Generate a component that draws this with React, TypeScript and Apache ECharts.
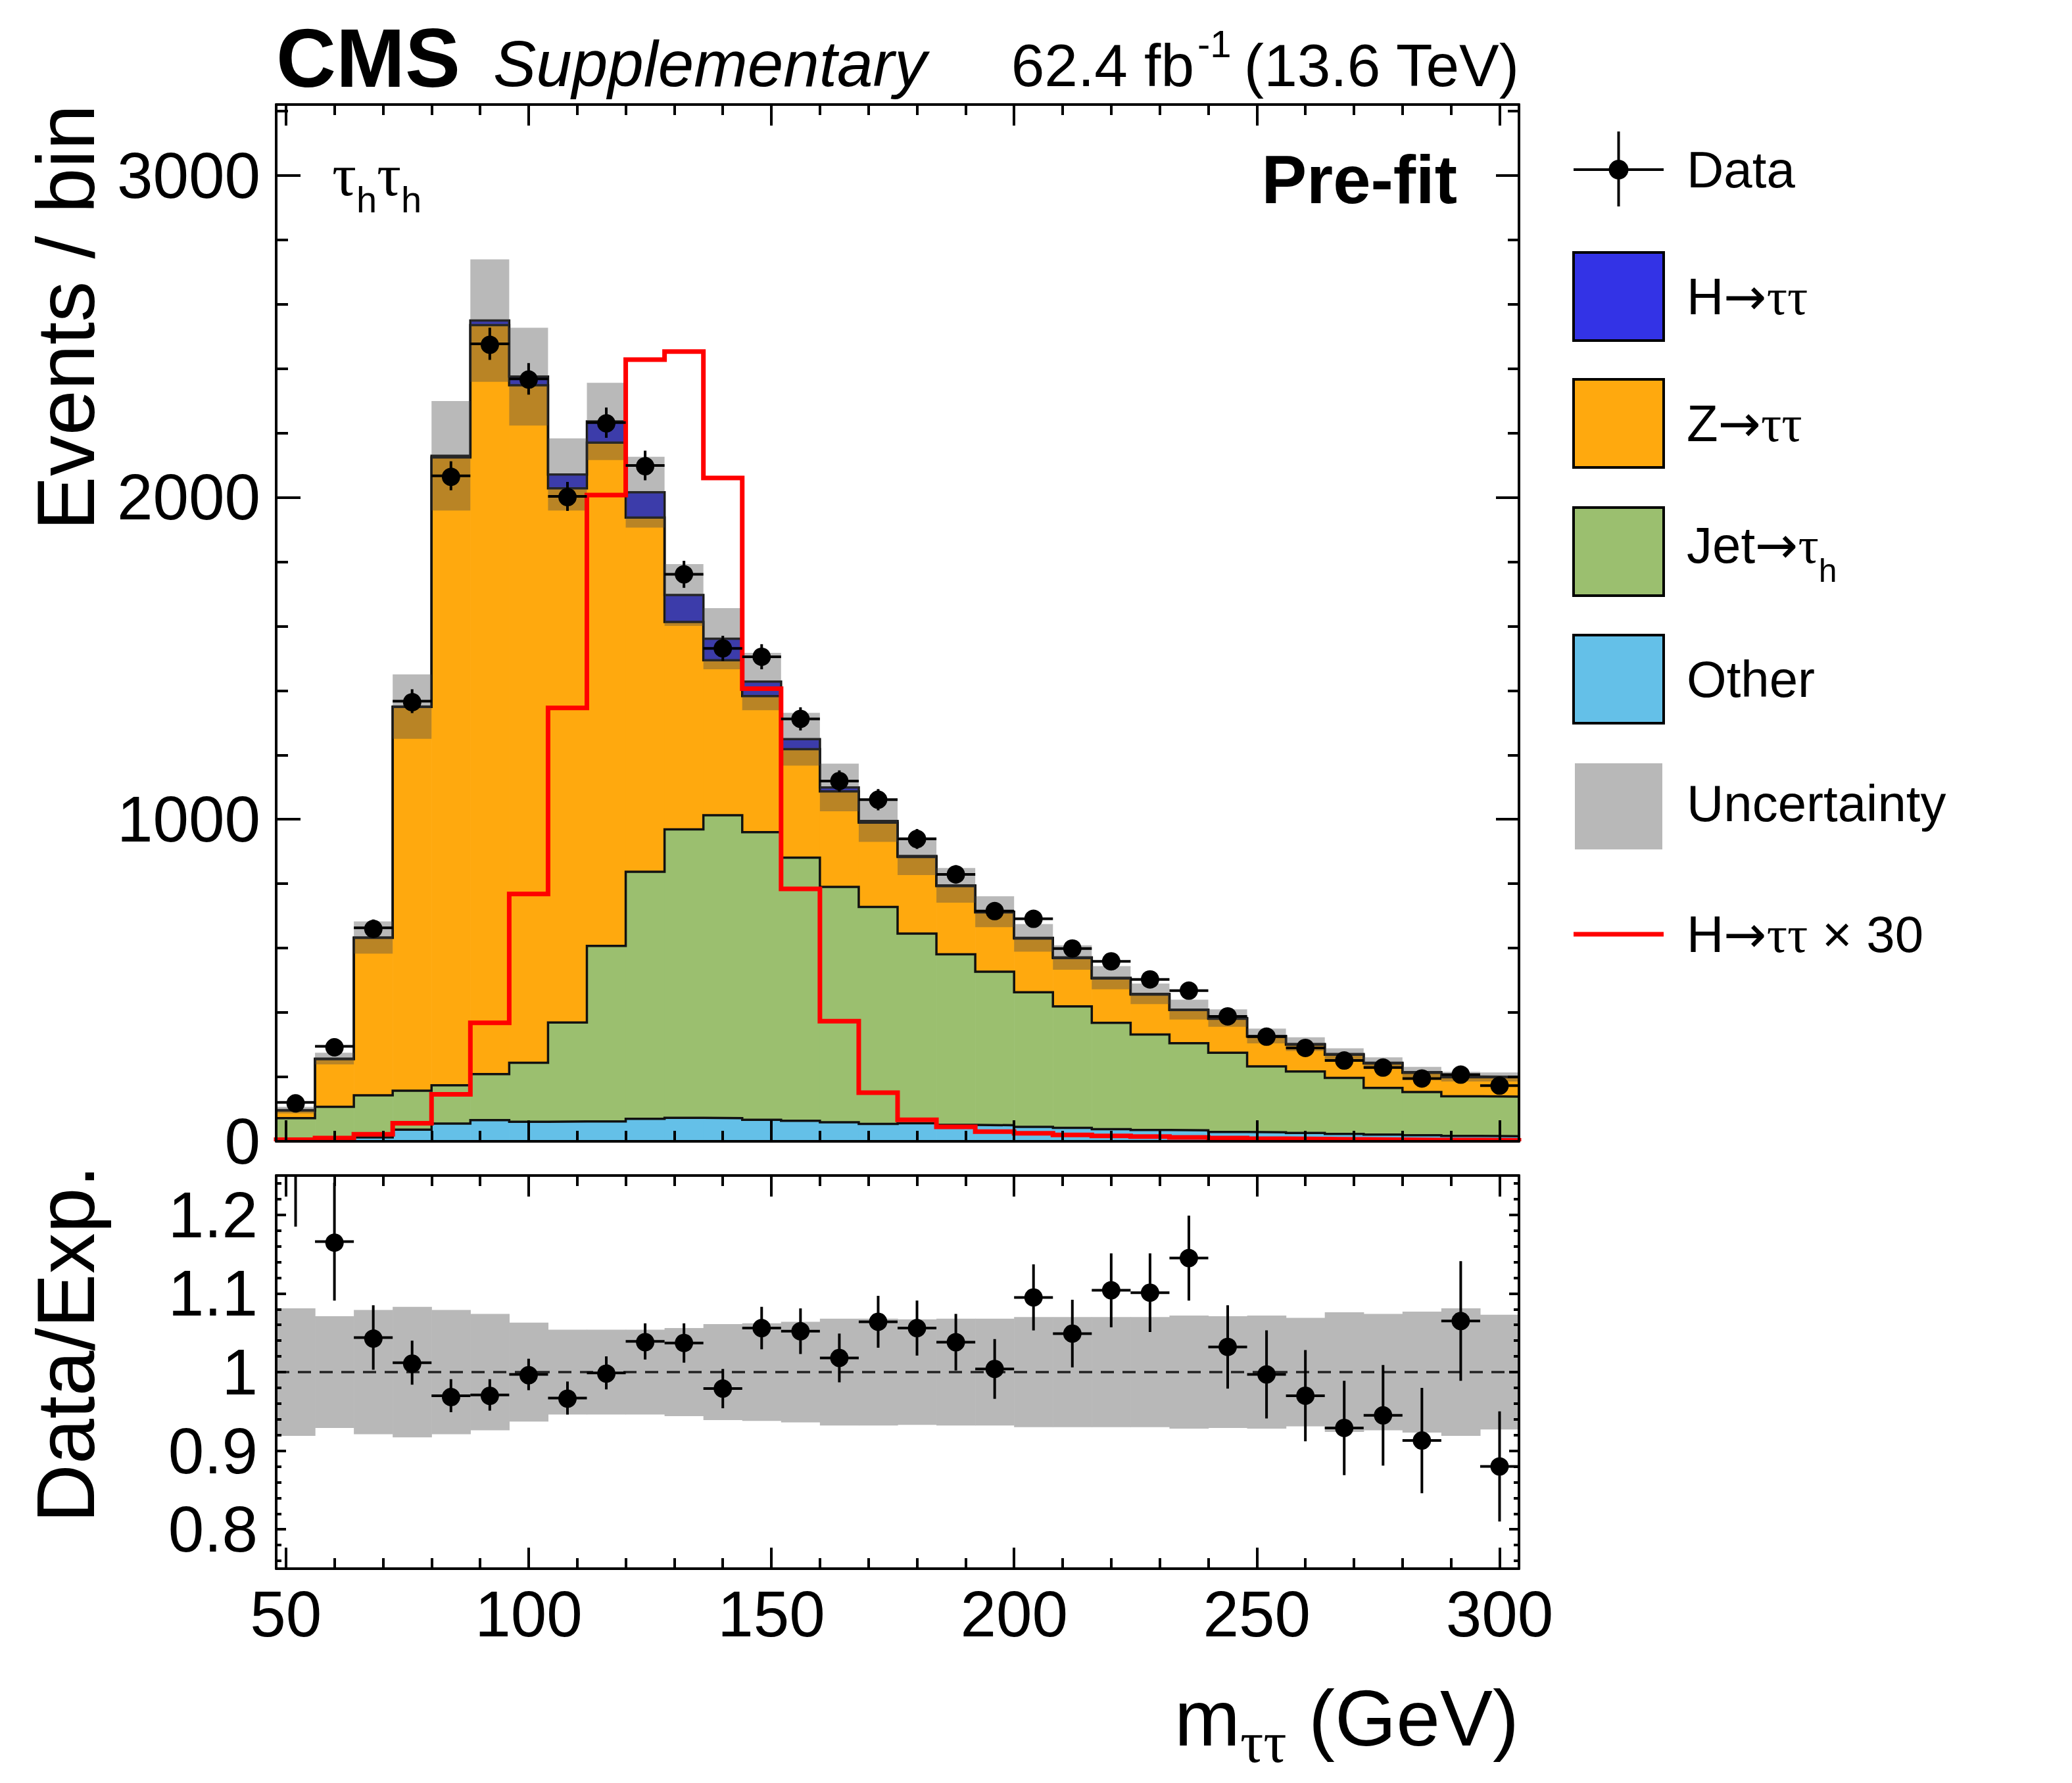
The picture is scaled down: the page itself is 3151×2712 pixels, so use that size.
import React, { useEffect, useRef } from 'react';
import * as echarts from 'echarts';

// m_tautau bin centres (GeV), 8 GeV wide bins from 48 to 304
const massBins = [52, 60, 68, 76, 84, 92, 100, 108, 116, 124, 132, 140, 148, 156, 164, 172, 180, 188, 196, 204, 212, 220, 228, 236, 244, 252, 260, 268, 276, 284, 292, 300];
const binHalfWidth = 4;
const xMin = 48;
const xMax = 304;

// stacked expectation, bottom to top
const otherYields = [3, 5, 12, 36, 55, 66, 61, 62, 62, 70, 73, 72, 67, 64, 59, 54, 56, 51, 50, 45, 42, 38, 35, 34, 29, 28, 26, 23, 21, 19, 17, 16];
const jetFakeYields = [69, 102, 131, 121, 119, 143, 183, 307, 545, 767, 896, 941, 893, 817, 731, 674, 589, 530, 477, 418, 377, 330, 297, 271, 246, 205, 191, 174, 145, 134, 123, 123];
const zttYields = [24, 148, 489, 1192, 1950, 2326, 2104, 1659, 1563, 1100, 644, 481, 423, 337, 297, 262, 238, 212, 184, 167, 150, 138, 124, 103, 106, 92, 83, 72, 76, 60, 59, 60];
const httYields = [1, 2, 1, 1, 5, 14, 27, 43, 66, 79, 84, 67, 45, 31, 12, 5, 3, 2, 2, 2, 2, 2, 2, 1, 2, 2, 2, 2, 2, 2, 2, 1];
const totalUnc = [10, 18, 50, 100, 170, 190, 152, 112, 120, 110, 96, 95, 89, 82, 74, 65, 59, 54, 48, 43, 38, 36, 32, 31, 27, 23, 21, 18, 17, 16, 15, 14];

// H->tautau x 30 overlay
const httTimes30 = [5, 10, 22, 56, 146, 368, 768, 1346, 2007, 2428, 2453, 2060, 1406, 784, 373, 151, 67, 45, 30, 25, 20, 17, 15, 12, 10, 8, 7, 6, 5, 4, 4, 3];

// observed
const dataCounts = [121, 295, 663, 1367, 2067, 2477, 2368, 2003, 2232, 2099, 1761, 1531, 1505, 1312, 1119, 1061, 939, 829, 715, 691, 599, 559, 503, 468, 388, 325, 290, 251, 229, 195, 207, 173];
const dataErrors = [11, 17, 26, 37, 45, 50, 49, 45, 47, 46, 42, 39, 39, 36, 33, 33, 31, 29, 27, 26, 24, 24, 22, 22, 20, 18, 17, 16, 15, 14, 14, 13];

// ratio panel
const ratioValues = [1.3, 1.166, 1.044, 1.012, 0.97, 0.971, 0.997, 0.967, 0.999, 1.039, 1.037, 0.979, 1.056, 1.052, 1.018, 1.064, 1.056, 1.038, 1.004, 1.095, 1.049, 1.104, 1.101, 1.145, 1.032, 0.997, 0.97, 0.929, 0.945, 0.913, 1.065, 0.88];
const ratioErrors = [0.115, 0.075, 0.041, 0.028, 0.021, 0.02, 0.02, 0.021, 0.021, 0.023, 0.025, 0.025, 0.027, 0.029, 0.031, 0.033, 0.035, 0.036, 0.038, 0.042, 0.043, 0.047, 0.05, 0.054, 0.053, 0.056, 0.058, 0.06, 0.064, 0.067, 0.076, 0.07];
const ratioUnc = [0.081, 0.071, 0.079, 0.083, 0.079, 0.074, 0.063, 0.054, 0.054, 0.054, 0.056, 0.061, 0.062, 0.064, 0.068, 0.068, 0.067, 0.068, 0.068, 0.07, 0.07, 0.07, 0.07, 0.072, 0.071, 0.072, 0.069, 0.076, 0.074, 0.077, 0.081, 0.073];

// ticks
const xMajorTicks = [50, 100, 150, 200, 250, 300];
const xMinorTicks = [60, 70, 80, 90, 110, 120, 130, 140, 160, 170, 180, 190, 210, 220, 230, 240, 260, 270, 280, 290];
const yMainMax = 3220;
const yMainMajor = [0, 1000, 2000, 3000];
const yMainMinor = [200, 400, 600, 800, 1200, 1400, 1600, 1800, 2200, 2400, 2600, 2800, 3200];
const ratioMin = 0.75;
const ratioMax = 1.25;
const yRatioMajor = [0.8, 0.9, 1, 1.1, 1.2];
const yRatioMinor = [0.76, 0.78, 0.82, 0.84, 0.86, 0.88, 0.92, 0.94, 0.96, 0.98, 1.02, 1.04, 1.06, 1.08, 1.12, 1.14, 1.16, 1.18, 1.22, 1.24];

const SANS = '"Liberation Sans", Arial, Helvetica, sans-serif';
const SERIF = '"Liberation Serif", "Times New Roman", serif';
const ARROW = '"DejaVu Sans", sans-serif';
const COLORS = {
  htt: '#3333e6',
  ztt: '#ffa90e',
  jet: '#9bbf6f',
  other: '#64c0e8',
  band: 'rgba(74,74,74,0.39)',
  bandRatio: '#b8b8b8',
  signal: '#ff0000',
};

const rectRenderer = (fill: string, seam: number) => (params: any, api: any) => {
  const a = api.coord([api.value(0), api.value(3)]);
  const b = api.coord([api.value(1), api.value(2)]);
  return {
    type: 'rect',
    shape: { x: a[0], y: a[1], width: b[0] - a[0] + seam, height: b[1] - a[1] },
    style: { fill },
  };
};

const stepLine = (values: number[], axis: number, color: string, width: number, z: number) => {
  const pts: number[][] = [[xMin, 0]];
  massBins.forEach((m, i) => {
    pts.push([m - binHalfWidth, values[i]]);
    pts.push([m + binHalfWidth, values[i]]);
  });
  pts.push([xMax, 0]);
  return {
    type: 'line',
    xAxisIndex: axis,
    yAxisIndex: axis,
    data: pts,
    showSymbol: false,
    symbol: 'none',
    silent: true,
    z,
    lineStyle: { color, width, join: 'miter' },
  };
};

const pointsRenderer = (lo: number, hi: number) => (params: any, api: any) => {
  const x = api.value(0);
  const y = api.value(1);
  const e = api.value(2);
  const clamp = (v: number) => Math.min(hi, Math.max(lo, v));
  const children: any[] = [];
  const top = api.coord([x, clamp(y + e)]);
  const bot = api.coord([x, clamp(y - e)]);
  if (bot[1] - top[1] > 0.5) {
    children.push({ type: 'line', shape: { x1: top[0], y1: top[1], x2: bot[0], y2: bot[1] }, style: { stroke: '#000', lineWidth: 4 } });
  }
  if (y >= lo && y <= hi) {
    const l = api.coord([x - binHalfWidth, y]);
    const r = api.coord([x + binHalfWidth, y]);
    const c = api.coord([x, y]);
    children.push({ type: 'line', shape: { x1: l[0], y1: l[1], x2: r[0], y2: r[1] }, style: { stroke: '#000', lineWidth: 4 } });
    children.push({ type: 'circle', shape: { cx: c[0], cy: c[1], r: 14 }, style: { fill: '#000' } });
  }
  return { type: 'group', children };
};

const xAxisPair = (grid: number, position: string, withLabels: boolean) => {
  const base = {
    type: 'value',
    gridIndex: grid,
    min: xMin,
    max: xMax,
    position,
    splitLine: { show: false },
    z: 10,
  };
  return [
    {
      ...base,
      axisLine: { show: true, onZero: false, lineStyle: { color: '#000', width: 4 } },
      axisTick: { show: true, inside: true, length: 32, customValues: xMajorTicks, lineStyle: { color: '#000', width: 4 } },
      axisLabel: withLabels
        ? { show: true, customValues: xMajorTicks, fontSize: 98, fontFamily: SANS, color: '#000', margin: 20 }
        : { show: false },
    },
    {
      ...base,
      axisLine: { show: false, onZero: false },
      axisTick: { show: true, inside: true, length: 16, customValues: xMinorTicks, lineStyle: { color: '#000', width: 4 } },
      axisLabel: { show: false },
    },
  ];
};

const yAxisPair = (grid: number, position: string, min: number, max: number, major: number[], minor: number[], majorLen: number, minorLen: number, withLabels: boolean, margin: number) => {
  const base = {
    type: 'value',
    gridIndex: grid,
    min,
    max,
    position,
    splitLine: { show: false },
    z: 10,
  };
  return [
    {
      ...base,
      axisLine: { show: true, onZero: false, lineStyle: { color: '#000', width: 4 } },
      axisTick: { show: true, inside: true, length: majorLen, customValues: major, lineStyle: { color: '#000', width: 4 } },
      axisLabel: withLabels
        ? { show: true, customValues: major, fontSize: 98, fontFamily: SANS, color: '#000', margin, formatter: (v: number) => String(v) }
        : { show: false },
    },
    {
      ...base,
      axisLine: { show: false, onZero: false },
      axisTick: { show: true, inside: true, length: minorLen, customValues: minor, lineStyle: { color: '#000', width: 4 } },
      axisLabel: { show: false },
    },
  ];
};

const txt = (text: string, x: number, y: number, font: string, align = 'left', extra: any = {}) => ({
  type: 'text',
  x,
  y,
  silent: true,
  z: 20,
  ...extra,
  style: {
    text,
    font,
    fill: '#000',
    textAlign: align,
    align,
    textVerticalAlign: 'middle',
    verticalAlign: 'middle',
    ...(extra.style || {}),
  },
});

const legendRich = {
  a: { fontSize: 78, fontFamily: SANS, lineHeight: 78 },
  r: { fontSize: 78, fontFamily: ARROW, lineHeight: 78 },
  t: { fontSize: 78, fontFamily: SERIF, lineHeight: 78 },
};

const buildGraphic = () => {
  const g: any[] = [];
  // header
  g.push(txt('CMS', 420, 88, `bold 126px ${SANS}`));
  g.push(txt('Supplementary', 750, 97, `italic 98px ${SANS}`));
  g.push(txt('62.4 fb', 1816, 99, `91px ${SANS}`, 'right'));
  g.push(txt('-1', 1821, 66, `58px ${SANS}`));
  g.push(txt('(13.6 TeV)', 2310, 99, `91px ${SANS}`, 'right'));
  // inside labels
  g.push({
    type: 'text', x: 505, y: 266, z: 20, silent: true,
    style: {
      text: '{t|τ}{h|h}{t|τ}{h|h}',
      textAlign: 'left', align: 'left', textVerticalAlign: 'middle', verticalAlign: 'middle',
      fill: '#000',
      rich: {
        t: { fontSize: 92, fontFamily: SERIF, lineHeight: 130 },
        h: { fontSize: 56, fontFamily: SANS, lineHeight: 56, verticalAlign: 'bottom' },
      },
    },
  });
  g.push(txt('Pre-fit', 2216, 273, `bold 103px ${SANS}`, 'right'));
  // axis titles
  g.push(txt('Events / bin', 100, 159, `124px ${SANS}`, 'right', { rotation: Math.PI / 2 }));
  g.push(txt('Data/Exp.', 100, 1772, `124px ${SANS}`, 'right', { rotation: Math.PI / 2 }));
  g.push({
    type: 'text', x: 2310, y: 2613, z: 20, silent: true,
    style: {
      text: '{m|m}{s|ττ}{m| (GeV)}',
      textAlign: 'right', align: 'right', textVerticalAlign: 'middle', verticalAlign: 'middle',
      fill: '#000',
      rich: {
        m: { fontSize: 120, fontFamily: SANS, lineHeight: 162 },
        s: { fontSize: 88, fontFamily: SERIF, lineHeight: 88, verticalAlign: 'bottom' },
      },
    },
  });

  // legend
  const lx = 2393;
  const lw = 137;
  const textX = 2565;
  g.push({ type: 'line', z: 20, shape: { x1: lx, y1: 258, x2: lx + lw, y2: 258 }, style: { stroke: '#000', lineWidth: 4 } });
  g.push({ type: 'line', z: 20, shape: { x1: lx + lw / 2, y1: 200, x2: lx + lw / 2, y2: 314 }, style: { stroke: '#000', lineWidth: 4 } });
  g.push({ type: 'circle', z: 20, shape: { cx: lx + lw / 2, cy: 258, r: 15 }, style: { fill: '#000' } });
  g.push(txt('Data', textX, 258, `78px ${SANS}`));

  const boxes = [
    { cy: 451, fill: COLORS.htt, text: '{a|H}{r|→}{t|ττ}' },
    { cy: 644, fill: COLORS.ztt, text: '{a|Z}{r|→}{t|ττ}' },
    { cy: 839, fill: COLORS.jet, text: '{b|Jet}{q|→}{u|τ}{h|h}', ty: 829 },
    { cy: 1033, fill: COLORS.other, text: '{a|Other}' },
  ];
  boxes.forEach((b) => {
    g.push({ type: 'rect', z: 20, shape: { x: lx, y: b.cy - 67, width: lw, height: 134 }, style: { fill: b.fill, stroke: '#000', lineWidth: 4 } });
    g.push({
      type: 'text', x: textX, y: b.ty || b.cy, z: 20, silent: true,
      style: {
        text: b.text,
        textAlign: 'left', align: 'left', textVerticalAlign: 'middle', verticalAlign: 'middle',
        fill: '#000',
        rich: {
          ...legendRich,
          b: { fontSize: 78, fontFamily: SANS, lineHeight: 128 },
          q: { fontSize: 78, fontFamily: ARROW, lineHeight: 128 },
          u: { fontSize: 78, fontFamily: SERIF, lineHeight: 128 },
          h: { fontSize: 50, fontFamily: SANS, lineHeight: 50, verticalAlign: 'bottom' },
        },
      },
    });
  });
  g.push({ type: 'rect', z: 20, shape: { x: lx + 2, y: 1161, width: lw - 4, height: 131 }, style: { fill: COLORS.bandRatio } });
  g.push(txt('Uncertainty', textX, 1222, `78px ${SANS}`));
  g.push({ type: 'line', z: 20, shape: { x1: lx, y1: 1421, x2: lx + lw, y2: 1421 }, style: { stroke: COLORS.signal, lineWidth: 7 } });
  g.push({
    type: 'text', x: textX, y: 1421, z: 20, silent: true,
    style: {
      text: '{a|H}{r|→}{t|ττ}{a| × 30}',
      textAlign: 'left', align: 'left', textVerticalAlign: 'middle', verticalAlign: 'middle',
      fill: '#000',
      rich: legendRich,
    },
  });
  return g;
};

const App: React.FC = () => {
  const chartRef = useRef<HTMLDivElement | null>(null);

  useEffect(() => {
    if (!chartRef.current) return;
    const chart = echarts.init(chartRef.current, undefined, { renderer: 'svg' });

    const components = [
      { name: 'Other', values: otherYields, color: COLORS.other },
      { name: 'Jet→τh', values: jetFakeYields, color: COLORS.jet },
      { name: 'Z→ττ', values: zttYields, color: COLORS.ztt },
      { name: 'H→ττ', values: httYields, color: COLORS.htt },
    ];

    let base = massBins.map(() => 0);
    const fillSeries: any[] = [];
    const outlineSeries: any[] = [];
    components.forEach((c) => {
      const top = base.map((b, i) => b + c.values[i]);
      fillSeries.push({
        type: 'custom',
        name: c.name,
        xAxisIndex: 0,
        yAxisIndex: 0,
        z: 2,
        silent: true,
        encode: { x: [0, 1], y: [2, 3] },
        renderItem: rectRenderer(c.color, 0.6),
        data: massBins.map((m, i) => [m - binHalfWidth, m + binHalfWidth, base[i], top[i]]),
      });
      outlineSeries.push(stepLine(top, 0, '#111', 3.5, 3));
      base = top;
    });
    const totals = base;

    const option = {
      animation: false,
      backgroundColor: '#fff',
      textStyle: { fontFamily: SANS },
      grid: [
        { left: 420, top: 159, width: 1890, height: 1577, show: false },
        { left: 420, top: 1788, width: 1890, height: 598, show: false },
      ],
      xAxis: [
        ...xAxisPair(0, 'bottom', false),
        ...xAxisPair(0, 'top', false),
        ...xAxisPair(1, 'bottom', true),
        ...xAxisPair(1, 'top', false),
      ],
      yAxis: [
        ...yAxisPair(0, 'left', 0, yMainMax, yMainMajor, yMainMinor, 37, 18, true, 24),
        ...yAxisPair(0, 'right', 0, yMainMax, yMainMajor, yMainMinor, 35, 17, false, 0),
        ...yAxisPair(1, 'left', ratioMin, ratioMax, yRatioMajor, yRatioMinor, 15, 8, true, 28),
        ...yAxisPair(1, 'right', ratioMin, ratioMax, yRatioMajor, yRatioMinor, 15, 8, false, 0),
      ],
      series: [
        ...fillSeries,
        ...outlineSeries,
        {
          type: 'custom',
          name: 'Uncertainty',
          xAxisIndex: 0,
          yAxisIndex: 0,
          z: 4,
          silent: true,
          encode: { x: [0, 1], y: [2, 3] },
          renderItem: rectRenderer(COLORS.band, 0),
          data: massBins.map((m, i) => [m - binHalfWidth, m + binHalfWidth, totals[i] - totalUnc[i], totals[i] + totalUnc[i]]),
        },
        { ...stepLine(httTimes30, 0, COLORS.signal, 7, 5), name: 'H→ττ × 30' },
        {
          type: 'custom',
          name: 'Data',
          xAxisIndex: 0,
          yAxisIndex: 0,
          z: 6,
          silent: true,
          encode: { x: 0, y: 1 },
          renderItem: pointsRenderer(0, yMainMax),
          data: massBins.map((m, i) => [m, dataCounts[i], dataErrors[i]]),
        },
        // ratio panel
        {
          type: 'custom',
          name: 'Uncertainty ratio',
          xAxisIndex: 4,
          yAxisIndex: 4,
          z: 2,
          silent: true,
          encode: { x: [0, 1], y: [2, 3] },
          renderItem: rectRenderer(COLORS.bandRatio, 0.6),
          data: massBins.map((m, i) => [m - binHalfWidth, m + binHalfWidth, 1 - ratioUnc[i], 1 + ratioUnc[i]]),
        },
        {
          type: 'line',
          xAxisIndex: 4,
          yAxisIndex: 4,
          z: 3,
          silent: true,
          showSymbol: false,
          symbol: 'none',
          data: [[xMin, 1], [xMax, 1]],
          lineStyle: { color: '#222', width: 3.5, type: [20, 13] },
        },
        {
          type: 'custom',
          name: 'Data/Exp.',
          xAxisIndex: 4,
          yAxisIndex: 4,
          z: 6,
          silent: true,
          encode: { x: 0, y: 1 },
          renderItem: pointsRenderer(ratioMin, ratioMax),
          data: massBins.map((m, i) => [m, ratioValues[i], ratioErrors[i]]),
        },
      ],
      graphic: buildGraphic(),
    };

    chart.setOption(option as any);

    return () => {
      chart.dispose();
    };
  }, []);

  return (
    <div
      ref={chartRef}
      style={{ position: 'fixed', left: 0, top: 0, width: '3151px', height: '2712px', background: '#fff' }}
    />
  );
};

export default App;
